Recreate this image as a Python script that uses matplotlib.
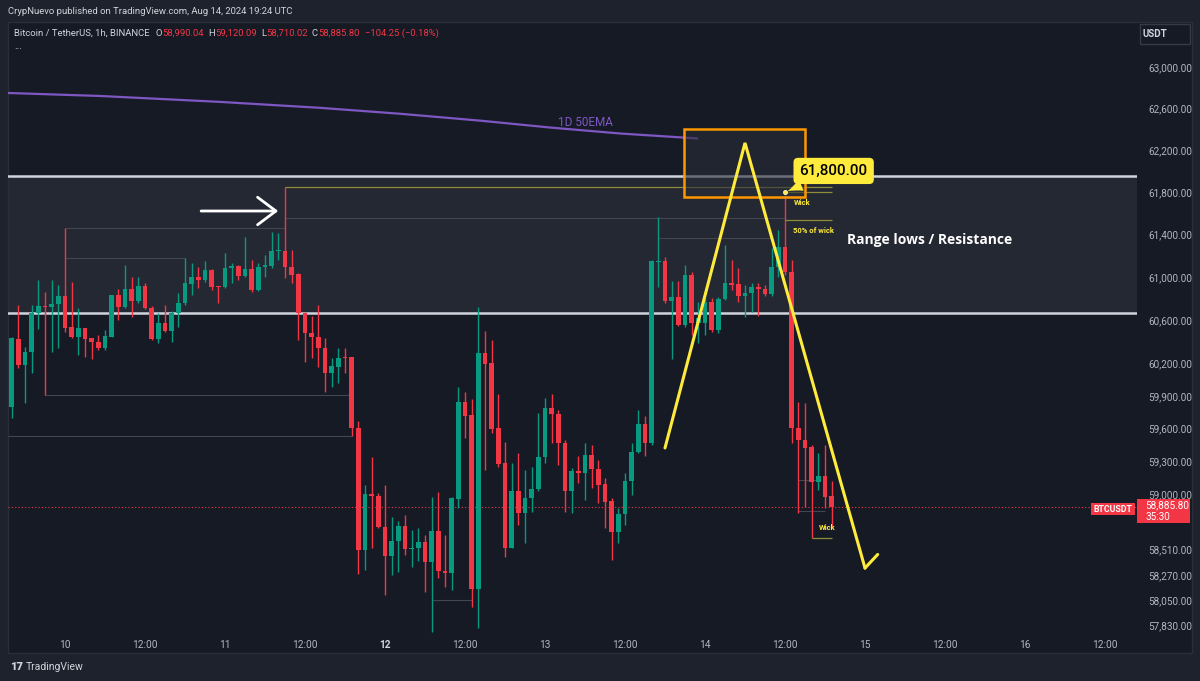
import matplotlib.pyplot as plt
from matplotlib.patches import Rectangle
import numpy as np

# BTCUSDT 1h candles, first candle = Aug 9 16:00 (hour -8 from Aug 10 00:00)
first_hour = -8
opens = [59800, 60424, 60184, 60305, 60666, 60731, 60722, 60750,
         60825, 60536, 60443, 60527, 60434, 60397, 60341, 60443,
         60834, 60722, 60890, 60778, 60918, 60713, 60424, 60573,
         60499, 60666, 60759, 60937, 61002, 60974, 61068, 60918,
         60909, 61087, 61106, 61012, 61077, 60881, 61096, 61106,
         61246, 61246, 61096, 61030, 60666, 60480, 60443, 60341,
         60110, 60165, 60258, 60258, 59605, 58500, 59005, 58986,
         58707, 58446, 58581, 58716, 58509, 58518, 58572, 58392,
         58671, 58311, 58293, 58959, 59844, 59724, 58151, 60295,
         60202, 59605, 59286, 58518, 59032, 58833, 58968, 59050,
         59340, 59788, 59733, 59468, 59032, 59213, 59195, 59359,
         59231, 59095, 58941, 58662, 58824, 59122, 59386, 59642,
         59468, 61143, 61152, 60778, 60815, 60554, 61021, 60573,
         60573, 60769, 60508, 60797, 60946, 60937, 60825, 60853,
         60909, 60890, 60843, 61096, 61283, 61049, 59605, 59495,
         59431, 59113, 59168, 58990.04]
highs = [60445, 60740, 60350, 60740, 60974, 60862, 60974, 60927,
         61463, 60955, 60713, 60527, 60434, 60462, 60508, 60834,
         60890, 61115, 61002, 61002, 60946, 60731, 60666, 60740,
         60685, 60853, 61181, 61134, 61096, 61152, 61077, 60918,
         61227, 61134, 61115, 61378, 61162, 61134, 61208, 61425,
         61416, 61850, 61255, 61040, 60676, 60638, 60740, 60434,
         60248, 60341, 60341, 60258, 59669, 59086, 59340, 59014,
         59086, 58797, 58761, 58815, 58680, 58698, 58635, 58977,
         59023, 58635, 58977, 59982, 59936, 59871, 60722, 60499,
         60415, 59917, 59477, 59286, 59377, 59222, 59249, 59742,
         59880, 59917, 59770, 59495, 59240, 59350, 59468, 59450,
         59313, 59149, 58968, 58878, 59195, 59468, 59770, 59715,
         61162, 61566, 61190, 60965, 60965, 61115, 61049, 60769,
         60806, 60806, 60815, 61302, 61162, 61087, 60927, 60946,
         60946, 60927, 61274, 61444, 61800, 61162, 59844, 59834,
         59450, 59377, 59450, 59120.09]
lows = [59695, 60156, 59834, 60110, 60517, 59908, 60305, 60341,
        60489, 60434, 60276, 60258, 60239, 60323, 60323, 60443,
        60601, 60713, 60629, 60759, 60704, 60415, 60387, 60489,
        60397, 60536, 60740, 60834, 60899, 60955, 60881, 60759,
        60899, 60946, 60974, 61002, 60862, 60871, 61002, 61087,
        61162, 60993, 60946, 60415, 60211, 60248, 60165, 59936,
        59982, 60018, 60110, 59532, 58284, 58320, 58518, 58698,
        58098, 58276, 58302, 58455, 58347, 58401, 58124, 57768,
        58249, 58169, 58142, 58878, 59513, 57991, 57804, 59222,
        59560, 59249, 58437, 58518, 58725, 58563, 58842, 59032,
        59286, 59468, 59268, 58842, 58833, 59104, 58950, 59059,
        58923, 58698, 58410, 58563, 58725, 58995, 59377, 59350,
        59450, 60909, 60759, 60239, 60545, 60536, 60462, 60387,
        60462, 60489, 60480, 60787, 60881, 60769, 60629, 60676,
        60638, 60825, 60825, 61002, 61021, 59468, 58833, 58887,
        58608, 59041, 58878, 58710.02]
closes = [60435, 60184, 60305, 60666, 60731, 60722, 60750, 60825,
          60527, 60443, 60527, 60424, 60397, 60341, 60452, 60834,
          60722, 60890, 60778, 60918, 60713, 60424, 60573, 60499,
          60666, 60759, 60946, 61002, 60974, 61068, 60909, 60909,
          61087, 61106, 61012, 61077, 60881, 61096, 61115, 61246,
          61255, 61096, 61021, 60666, 60480, 60443, 60341, 60110,
          60175, 60248, 60248, 59605, 58500, 59005, 58986, 58707,
          58446, 58581, 58716, 58509, 58518, 58572, 58392, 58671,
          58311, 58293, 58968, 59844, 59715, 58151, 60295, 60193,
          59596, 59277, 58518, 59032, 58833, 58968, 59050, 59340,
          59788, 59733, 59468, 59032, 59213, 59195, 59359, 59231,
          59086, 58932, 58662, 58824, 59122, 59386, 59642, 59468,
          61152, 61152, 60778, 60815, 60554, 61021, 60573, 60620,
          60769, 60508, 60797, 60946, 60927, 60825, 60853, 60909,
          60890, 60843, 61096, 61283, 61049, 59605, 59495, 59422,
          59113, 59168, 58977, 58885.80]

# 1D 50EMA (hours, price)
ema_hours = [-8.6, 5.3, 23.3, 38.3, 50.3, 62.3, 72.8, 83.3, 94.8]
ema_vals = [62749, 62720, 62663, 62606, 62549, 62483, 62417, 62360, 62313]

range_high = 61955
range_low = 60666
last_price = 58885.80

# drawn zigzag (hours, price)
zig_hours = [90, 102, 120]
zig_prices = [59423, 62270, 58338]

# thin level lines: (price, from hour, to hour)
levels = [(61463, 0, 33), (61180, 0, 18), (61557, 33, 108), (61368, 89, 106),
          (59908, -3, 43), (59532, -8.5, 43), (58050, 55, 61),
          (59131, 110, 113), (58850, 110, 114)]

price_ticks = [63000, 62600, 62200, 61800, 61400, 61000, 60600, 60200, 59900,
               59600, 59300, 59000, 58510, 58270, 58050, 57830]
time_ticks = [0, 12, 24, 36, 48, 60, 72, 84, 96, 108, 120, 132, 144, 156]
time_labels = ['10', '12:00', '11', '12:00', '12', '12:00', '13', '12:00',
               '14', '12:00', '15', '12:00', '16', '12:00']

GREEN = '#089981'
RED = '#f23645'
YELLOW = '#ffeb3b'
TXT = '#b2b5be'
BG = '#161a25'

W, H = 1200, 681
def fx(px):
    return px / W
def fy(py):
    return 1 - py / H

plt.rcParams['font.family'] = ['Roboto', 'DejaVu Sans']

fig = plt.figure(figsize=(12, 6.81), dpi=100, facecolor='#1e222d')

# chart pane
fig.add_artist(Rectangle((fx(8), fy(653)), fx(1192) - fx(8), fy(22) - fy(653),
                         transform=fig.transFigure, facecolor=BG,
                         edgecolor='#2a2e39', lw=1, zorder=0))

ax = fig.add_axes([fx(8), fy(634), fx(1137) - fx(8), fy(22) - fy(634)])
ax.set_facecolor('none')
for s in ax.spines.values():
    s.set_visible(False)
ax.set_yscale('log')
ax.set_xlim(-8.55, 160.8)
ax.set_ylim(57751, 63436)

ax.yaxis.tick_right()
ax.set_yticks(price_ticks)
ax.set_yticklabels([f'{v:,.2f}' for v in price_ticks])
ax.yaxis.set_minor_locator(plt.NullLocator())
ax.tick_params(axis='y', length=0, pad=8, labelsize=7.2, labelcolor=TXT)
ax.set_xticks(time_ticks)
ax.set_xticklabels(time_labels)
ax.tick_params(axis='x', length=0, pad=4, labelsize=7.3, labelcolor=TXT)
for lab in ax.get_xticklabels():
    if lab.get_text() == '12':
        lab.set_fontweight('bold')
        lab.set_color('#d1d4dc')

# range zone
ax.axhspan(range_low, range_high, color='#2a2e39', alpha=0.75, lw=0, zorder=1)
ax.axhline(range_high, color='#d1d4dc', lw=1.8, zorder=2)
ax.axhline(range_low, color='#d1d4dc', lw=1.8, zorder=2)

for p, h0, h1 in levels:
    ax.hlines(p, h0, h1, color='#434651', lw=0.8, zorder=2)
ax.vlines(-3, 59908, 60700, color='#434651', lw=0.8, zorder=2)

# candles
hours = np.arange(len(opens)) + first_hour
o = np.array(opens)
c = np.array(closes)
cols = np.where(c >= o, GREEN, RED)
ax.vlines(hours, lows, highs, colors=cols, lw=1, zorder=3)
lo = np.minimum(o, c)
hi = np.maximum(o, c)
ax.bar(hours, np.maximum(hi - lo, 8), bottom=lo, width=0.72, color=cols,
       lw=0, zorder=4)

ax.axhline(last_price, color=RED, ls=(0, (1, 2)), lw=0.8, zorder=2)

# EMA
ax.plot(ema_hours, ema_vals, color='#7e57c2', lw=1.6, zorder=5)
ax.text(78, 62465, '1D 50EMA', color='#7e57c2', fontsize=8.5, ha='center',
        va='center', zorder=6)

# highs / wick drawings
ax.hlines(61850, 33, 115, color='#8d8d3a', lw=0.9, zorder=5)
ax.hlines(61800, 108, 115, color='#8d8d3a', lw=0.9, zorder=5)
ax.hlines(61540, 108, 115, color='#8d8d3a', lw=0.9, zorder=5)
ax.hlines(58608, 112, 115, color='#8d8d3a', lw=0.9, zorder=5)
ax.text(110.6, 61699, 'Wick', color=YELLOW, fontsize=5.5, fontweight='bold',
        ha='center', va='center', zorder=6)
ax.text(112.2, 61435, '50% of wick', color=YELLOW, fontsize=5.5,
        fontweight='bold', ha='center', va='center', zorder=6)
ax.text(114.3, 58706, 'Wick', color=YELLOW, fontsize=5.5, fontweight='bold',
        ha='center', va='center', zorder=6)

# orange box
ax.add_patch(Rectangle((92.85, 61756), 111 - 92.85, 62403 - 61756,
                       facecolor='#2a2e39', alpha=0.6, edgecolor='none', zorder=5))
ax.add_patch(Rectangle((92.85, 61756), 111 - 92.85, 62403 - 61756,
                       facecolor='none', edgecolor='#ff9800', lw=1.8, zorder=6))

# zigzag
ax.plot(zig_hours, zig_prices, color=YELLOW, lw=2.2, zorder=7,
        solid_capstyle='round', solid_joinstyle='miter')
ax.plot([zig_hours[-1], zig_hours[-1] + 1.9], [zig_prices[-1], 58460],
        color=YELLOW, lw=2.2, zorder=7, solid_capstyle='round')

# white arrow
ax.annotate('', xy=(32.4, 61623), xytext=(20, 61623),
            arrowprops=dict(arrowstyle='->,head_length=0.6,head_width=0.45',
                            color='white', lw=2, mutation_scale=22), zorder=7)

# callout
ax.plot(108, 61800, 'o', ms=3, color=YELLOW, mec='white', mew=0.5, zorder=8)
ax.annotate('61,800.00', xy=(108, 61800), xytext=(115.3, 62003),
            ha='center', va='center', fontsize=11, color='black',
            fontweight='medium',
            bbox=dict(boxstyle='round,pad=0.4,rounding_size=0.3',
                      fc=YELLOW, ec='none'),
            arrowprops=dict(arrowstyle='wedge,tail_width=0.8,shrink_factor=0.4',
                            fc=YELLOW, ec='none'), zorder=8)

ax.text(117.3, 61350, 'Range lows / Resistance', color='white', fontsize=10,
        fontweight='bold', family='Open Sans', ha='left', va='center', zorder=8)

# header texts
fig.text(fx(8), fy(12), 'CrypNuevo published on TradingView.com, Aug 14, 2024 19:24 UTC',
         color='#d1d4dc', fontsize=6.8, ha='left', va='center')

renderer = fig.canvas.get_renderer()
parts = [('Bitcoin / TetherUS, 1h, BINANCE', '#d1d4dc', 6),
         ('O', '#d1d4dc', 0.5), ('58,990.04', RED, 4),
         ('H', '#d1d4dc', 0.5), ('59,120.09', RED, 4),
         ('L', '#d1d4dc', 0.5), ('58,710.02', RED, 4),
         ('C', '#d1d4dc', 0.5), ('58,885.80', RED, 5),
         ('\u2212104.25 (\u22120.18%)', RED, 0)]
xpos = 14
for s, col, gap in parts:
    t = fig.text(fx(xpos), fy(33), s, color=col, fontsize=6.8, ha='left', va='center')
    xpos += t.get_window_extent(renderer).width + gap
fig.text(fx(14), fy(46), '...', color='#d1d4dc', fontsize=7, ha='left', va='center')

# USDT box
fig.add_artist(Rectangle((fx(1140), fy(44)), fx(1190) - fx(1140), fy(24) - fy(44),
                         transform=fig.transFigure, facecolor=BG,
                         edgecolor='#363a45', lw=1, zorder=3))
fig.text(fx(1155), fy(34), 'USDT', color='#d1d4dc', fontsize=7, ha='center',
         va='center', fontweight='bold', zorder=4)

# last price labels
fig.add_artist(Rectangle((fx(1137), fy(523)), fx(1190) - fx(1137), fy(499) - fy(523),
                         transform=fig.transFigure, facecolor=RED, lw=0, zorder=3))
fig.text(fx(1145), fy(505), '58,885.80', color='white', fontsize=7.2, ha='left',
         va='center', zorder=4)
fig.text(fx(1145), fy(517), '35:30', color='white', fontsize=7.2, ha='left',
         va='center', zorder=4)
fig.add_artist(Rectangle((fx(1091), fy(515)), fx(1135) - fx(1091), fy(503) - fy(515),
                         transform=fig.transFigure, facecolor=RED, lw=0, zorder=3))
fig.text(fx(1113), fy(509), 'BTCUSDT', color='white', fontsize=6.3,
         fontweight='bold', ha='center', va='center', zorder=4)

# footer
fig.text(fx(10), fy(667), '17', color='#d1d4dc', fontsize=8, fontweight='black',
         ha='left', va='center')
fig.text(fx(26), fy(667), 'TradingView', color='#d1d4dc', fontsize=7.5,
         ha='left', va='center')

fig.savefig('out.png', dpi=100, facecolor=fig.get_facecolor())
